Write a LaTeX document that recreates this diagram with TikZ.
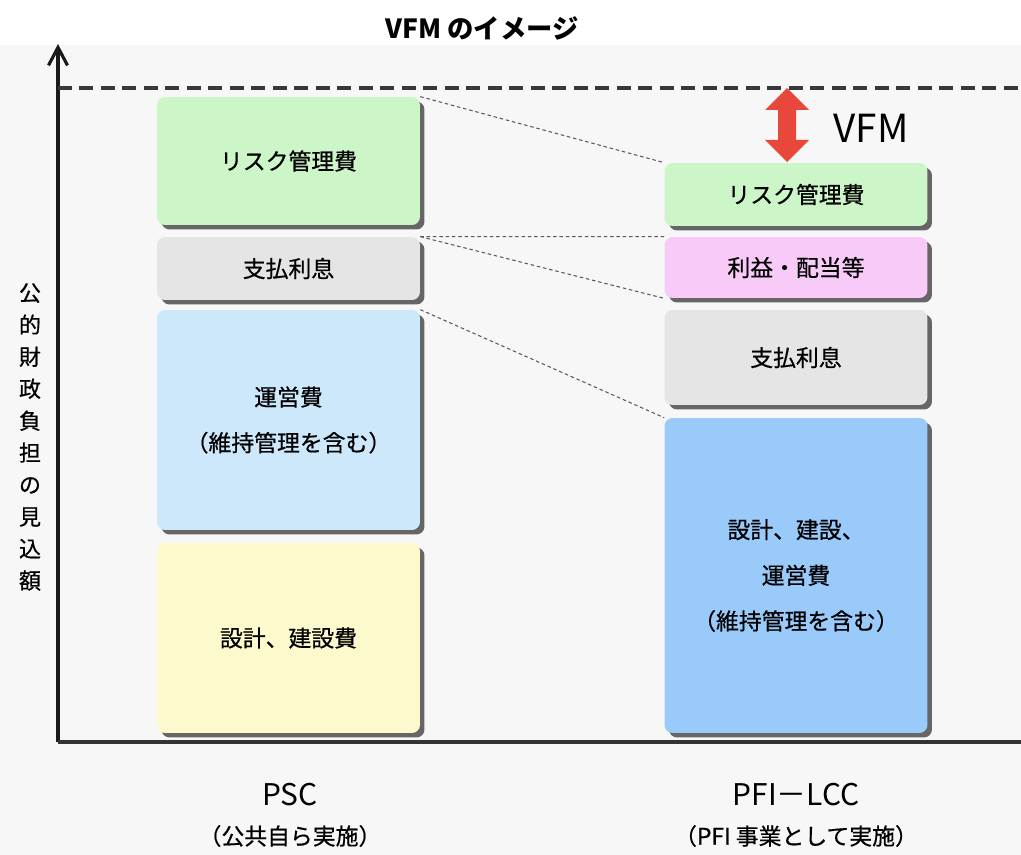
\documentclass[tikz,border=0pt]{standalone}
\usepackage{fontspec}
\setmainfont{Noto Sans CJK JP}
\newfontfamily\boxfont[FakeBold=0.6]{Noto Sans CJK JP}
\usetikzlibrary{arrows.meta,shadows}

\definecolor{riskGreen}{RGB}{204,245,200}
\definecolor{intGray}{RGB}{229,229,229}
\definecolor{opeBlue}{RGB}{204,232,250}
\definecolor{conYellow}{RGB}{252,249,204}
\definecolor{profPink}{RGB}{248,202,248}
\definecolor{allBlue}{RGB}{153,202,250}
\definecolor{vfmRed}{RGB}{232,72,60}

\begin{document}
\begin{tikzpicture}
[x=0.02cm, y=-0.02cm,
  boxDecorate/.style={shape=rectangle,rounded corners=0.16cm,minimum width=5.26cm,
    align=center,inner sep=2pt,font=\boxfont\fontsize{13}{26}\selectfont,
    drop shadow={shadow xshift=0.09cm,shadow yshift=-0.09cm,fill=black!60,opacity=1}},%
  axisLine/.style={line width=1.8pt,black!90},%
  connDotted/.style={black!65,line width=0.6pt,dash pattern=on 2pt off 1.6pt},%
  caption/.style={align=center,font=\boxfont\fontsize{13}{20}\selectfont}]
\useasboundingbox (0,0) rectangle (1021,855);
\fill[black!3] (0,45) rectangle (1021,855);
%% title and axis label
\node (title) at (482,28) {\fontsize{15}{18}\selectfont\bfseries VFM のイメージ};
\node (yLabel) at (30,437) [align=center,font=\boxfont\fontsize{12.5}{18.2}\selectfont]
  {公\\的\\財\\政\\負\\担\\の\\見\\込\\額};
%% axes
\coordinate (origin) at (58,742);
\coordinate (yTop) at (58,44);
\coordinate (xEnd) at (1021,742);
\coordinate (levelL) at (58,88);
\coordinate (levelR) at (1021,88);
\draw[axisLine,-{Straight Barb[length=0.36cm,width=0.38cm,line width=1.8pt]}] (origin) -- (yTop);
\draw[axisLine,line width=2.2pt,black!80] (origin) -- (xEnd);
\draw[line width=2pt,black!78,dash pattern=on 0.28cm off 0.15cm] (levelL) -- (levelR);
%% cost boxes
\foreach \boxname/\x/\y/\h/\col/\txt in {
  lRisk/288.5/161/2.56/riskGreen/{リスク管理費},
  lInt/288.5/268.5/1.26/intGray/{支払利息},
  lOpe/288.5/420/4.4/opeBlue/{運営費\\（維持管理を含む）},
  lCon/288.5/638/3.8/conYellow/{設計、建設費},
  rRisk/796/194.5/1.26/riskGreen/{リスク管理費},
  rProf/796/267.5/1.22/profPink/{利益・配当等},
  rInt/796/357.5/1.9/intGray/{支払利息},
  rAll/796/575.5/6.3/allBlue/{設計、建設、\\運営費\\（維持管理を含む）}}
{
  \node (\boxname) at (\x,\y) [boxDecorate,fill=\col,minimum height=\h cm] {\txt};
}
%% dotted links between the columns
\draw[connDotted] (lRisk.north east) -- (rRisk.north west);
\draw[connDotted] (lInt.north east) -- (rProf.north west);
\draw[connDotted] (lInt.north east) -- (rProf.south west);
\draw[connDotted] (lOpe.north east) -- (rAll.north west);
%% VFM arrow
\coordinate (vfmMid) at (787,125);
\fill[vfmRed,shift={(vfmMid)}] (0,-37) -- (22,-15) -- (9,-15) -- (9,15) -- (22,15)
  -- (0,37) -- (-22,15) -- (-9,15) -- (-9,-15) -- (-22,-15) -- cycle;
\node (vfmLabel) at (871,128) {\fontsize{22}{24}\selectfont VFM};
%% column captions
\node (pscName) at (290,795) [caption,font=\fontsize{17}{20}\selectfont] {PSC};
\node (pscNote) at (290,836) [caption] {（公共自ら実施）};
\node (pfiName) at (796,795) [caption,font=\fontsize{17}{20}\selectfont] {PFI－LCC};
\node (pfiNote) at (796,836) [caption] {（PFI 事業として実施）};
\end{tikzpicture}
\end{document}
